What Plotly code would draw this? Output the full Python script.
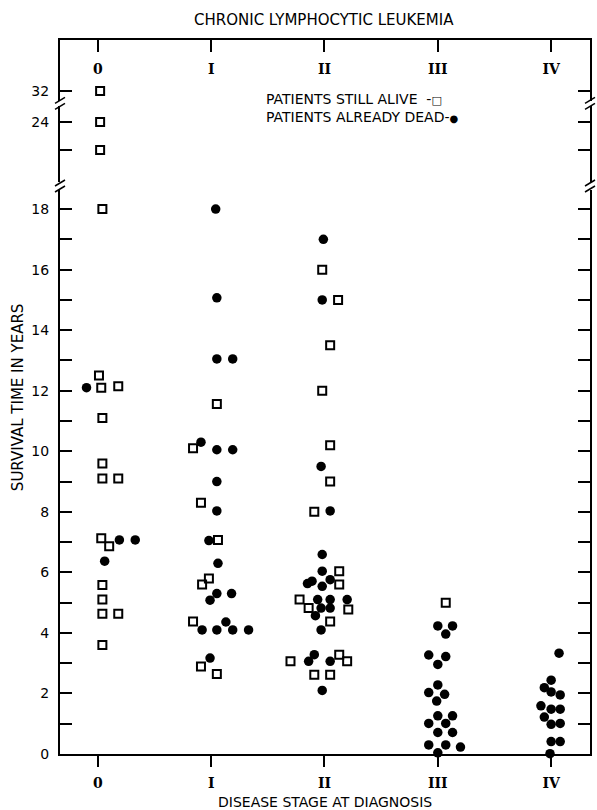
import plotly.graph_objects as go

# Disease stage categories (Rai staging)
STAGES = ["0", "I", "II", "III", "IV"]

# Patients still alive: stage index, horizontal offset inside the stage column, survival (years)
alive_stage = [0] * 18 + [1] * 9 + [2] * 18 + [3]
alive_offset = [
    0.02, 0.02, 0.02, 0.04, 0.01, 0.03, 0.18, 0.04, 0.04, 0.04, 0.18, 0.03, 0.10, 0.04, 0.04, 0.04, 0.18, 0.04,
    0.05, -0.16, -0.09, 0.06, -0.02, -0.08, -0.16, -0.09, 0.05,
    -0.02, 0.12, 0.05, -0.02, 0.05, 0.05, -0.09, 0.13, 0.13, -0.22, -0.14, 0.21, 0.05, -0.30, 0.13, 0.20, -0.09, 0.05,
    0.07,
]
alive_years = [
    32, 24, 22, 18, 12.5, 12.1, 12.15, 11.1, 9.6, 9.1, 9.1, 7.13, 6.86, 5.58, 5.1, 4.63, 4.63, 3.6,
    11.56, 10.1, 8.3, 7.07, 5.8, 5.6, 4.38, 2.89, 2.64,
    16.0, 15.0, 13.5, 12.0, 10.2, 9.0, 8.0, 6.04, 5.6, 5.1, 4.82, 4.77, 4.38, 3.06, 3.28, 3.06, 2.62, 2.62,
    5.0,
]

# Patients already dead
dead_stage = [0] * 4 + [1] * 20 + [2] * 21 + [3] * 20 + [4] * 14
dead_offset = [
    -0.10, 0.19, 0.33, 0.06,
    0.04, 0.05, 0.05, 0.19, -0.09, 0.05, 0.19, 0.05, 0.05, -0.02, 0.06, 0.05, 0.18, -0.01, -0.08, 0.05, 0.13, 0.19,
    0.33, -0.01,
    -0.01, -0.02, -0.03, 0.05, -0.02, -0.02, -0.11, -0.15, 0.05, -0.02, -0.06, -0.03, -0.08, 0.05, 0.05, 0.20, -0.03,
    -0.14, -0.09, 0.05, -0.02,
    0.0, 0.13, 0.07, -0.08, 0.07, 0.0, 0.0, -0.08, 0.06, -0.01, 0.0, 0.13, -0.08, 0.07, 0.0, 0.13, -0.08, 0.07, 0.20,
    0.0,
    0.07, 0.0, -0.06, 0.0, 0.08, -0.09, 0.0, 0.08, -0.06, 0.0, 0.08, 0.0, 0.08, -0.01,
]
dead_years = [
    12.1, 7.07, 7.07, 6.37,
    18.0, 15.07, 13.05, 13.05, 10.3, 10.05, 10.05, 9.0, 8.03, 7.05, 6.3, 5.3, 5.3, 5.08, 4.1, 4.1, 4.36, 4.1, 4.1, 3.17,
    17.0, 15.0, 9.5, 8.03, 6.59, 6.04, 5.71, 5.63, 5.76, 5.54, 5.1, 4.82, 4.57, 5.1, 4.82, 5.1, 4.1, 3.06, 3.28, 3.06,
    2.1,
    4.23, 4.23, 3.96, 3.27, 3.22, 2.96, 2.28, 2.03, 1.97, 1.75, 1.26, 1.26, 1.01, 1.01, 0.71, 0.71, 0.30, 0.30, 0.23,
    0.04,
    3.33, 2.44, 2.19, 2.05, 1.95, 1.59, 1.48, 1.48, 1.22, 0.98, 1.01, 0.41, 0.41, 0.01,
]

# Broken y axis: three stacked segments (paper-fraction domains and value ranges)
SEGMENTS = [
    ("y", [0.0, 0.7899], [0.0, 18.63], 0, 19),
    ("y2", [0.8011, 0.9076], [19.71, 25.14], 19, 28),
    ("y3", [0.9146, 1.0], [31.29, 35.64], 28, 99),
]

FONT = "DejaVu Sans"
ROMAN_FONT = "DejaVu Serif"

fig = go.Figure()


def add_series(stage, offset, years, marker):
    for axis, _dom, _rng, lo, hi in SEGMENTS:
        idx = [i for i, v in enumerate(years) if lo <= v < hi]
        if not idx:
            continue
        fig.add_trace(go.Scatter(
            x=[stage[i] + offset[i] for i in idx],
            y=[years[i] for i in idx],
            mode="markers",
            marker=marker,
            xaxis="x",
            yaxis=axis,
            showlegend=False,
            cliponaxis=False,
            hoverinfo="skip",
        ))


add_series(alive_stage, alive_offset, alive_years,
           dict(symbol="square-open", size=8, color="black", line=dict(width=2, color="black")))
add_series(dead_stage, dead_offset, dead_years,
           dict(symbol="circle", size=9.5, color="black", line=dict(width=0)))

# empty trace so the top stage axis gets its own subplot
fig.add_trace(go.Scatter(x=[], y=[], xaxis="x2", yaxis="y3", showlegend=False, hoverinfo="skip"))

axis_common = dict(
    showline=True, linewidth=2, linecolor="black",
    showgrid=False, zeroline=False,
    ticks="inside", ticklen=12, tickwidth=2, tickcolor="black",
    tickfont=dict(family=FONT, size=14, color="black"),
)

x_range = [-0.334, 4.343]
roman_font = dict(family=ROMAN_FONT, size=14, color="black", weight="bold")
fig.update_layout(
    width=597, height=810,
    margin=dict(l=60, r=5, t=40, b=56),
    paper_bgcolor="white", plot_bgcolor="white",
    xaxis=dict(
        domain=[0, 1], range=x_range, anchor="y",
        tickvals=list(range(len(STAGES))), ticktext=STAGES,
        showline=True, linewidth=2, linecolor="black", showgrid=False, zeroline=False,
        ticks="outside", ticklen=11, tickwidth=2, tickcolor="black",
        ticklabelstandoff=4,
        tickfont=roman_font,
    ),
    xaxis2=dict(
        overlaying="x", side="top", anchor="y3", range=x_range,
        tickvals=list(range(len(STAGES))), ticktext=STAGES,
        showline=True, linewidth=2, linecolor="black", showgrid=False, zeroline=False,
        ticks="inside", ticklen=12, tickwidth=2, tickcolor="black",
        ticklabelposition="inside", ticklabelstandoff=12,
        tickfont=roman_font,
    ),
    yaxis=dict(
        domain=SEGMENTS[0][1], range=SEGMENTS[0][2], anchor="x", mirror="ticks",
        tickvals=list(range(0, 19, 2)), ticklabelstandoff=6,
        minor=dict(dtick=1, ticks="inside", ticklen=12, tickwidth=2, tickcolor="black"),
        **axis_common,
    ),
    yaxis2=dict(
        domain=SEGMENTS[1][1], range=SEGMENTS[1][2], anchor="x", mirror="ticks",
        tickvals=[22, 24], ticktext=["", "24"], ticklabelstandoff=6,
        **axis_common,
    ),
    yaxis3=dict(
        domain=SEGMENTS[2][1], range=SEGMENTS[2][2], anchor="x", mirror="ticks",
        tickvals=[32], ticktext=["32"], ticklabelstandoff=6,
        **axis_common,
    ),
)

# Break marks where the y axis is interrupted (both sides of the frame)
px_x = 1 / 532
px_y = 1 / 714
for gap_center in [(SEGMENTS[1][1][1] + SEGMENTS[2][1][0]) / 2, (SEGMENTS[0][1][1] + SEGMENTS[1][1][0]) / 2]:
    for side in (0.0, 1.0):
        for shift in (-3, 3):
            fig.add_shape(
                type="line", xref="paper", yref="paper",
                x0=side - 5 * px_x, x1=side + 5 * px_x,
                y0=gap_center + (shift - 3) * px_y, y1=gap_center + (shift + 3) * px_y,
                line=dict(color="black", width=1.5),
            )


def note(text, x, y, size=15, **kw):
    fig.add_annotation(text=text, x=x, y=y, xref="paper", yref="paper", showarrow=False,
                       yanchor="middle", font=dict(family=FONT, size=size, color="black"), **kw)


note("CHRONIC LYMPHOCYTIC LEUKEMIA", 0.498, 1.028, xanchor="center")
note("DISEASE STAGE AT DIAGNOSIS", 0.5, -0.0675, size=14, xanchor="center")
note("SURVIVAL TIME IN YEARS", -0.079, 0.5, textangle=-90, xanchor="center")
note("PATIENTS STILL ALIVE  -<span style='font-size:11px'>\u25a1</span>", 0.385, 0.9174, size=14,
     xanchor="left")
note("PATIENTS ALREADY DEAD-<span style='font-size:10px'>\u25cf</span>", 0.385, 0.8922, size=14,
     xanchor="left")

fig.write_html("out.html")
